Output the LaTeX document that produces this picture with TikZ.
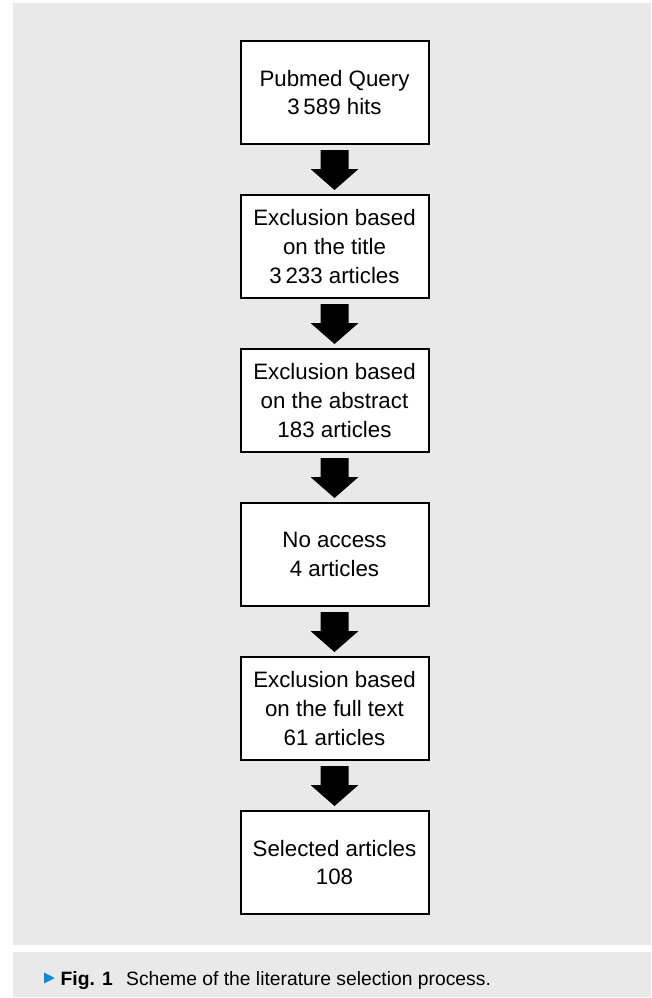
\documentclass[tikz,border=0pt]{standalone}
\usepackage{fontspec}
\setmainfont{Liberation Sans}
\usepackage{tikz}
\usetikzlibrary{calc}
\definecolor{panelgray}{RGB}{233,233,233}
\definecolor{figblue}{RGB}{0,140,215}

\begin{document}
\begin{tikzpicture}[x=1pt,y=1pt,yscale=-1,xscale=1,
    stepbox/.style={draw,line width=2pt,fill=white,minimum width=188pt,minimum height=103pt,
      inner sep=0pt,outer sep=0pt,align=center,font=\fontsize{22.3}{28.7}\selectfont},
    captext/.style={anchor=base west,inner sep=0pt,font=\fontsize{19.3}{23}\selectfont}]
        \useasboundingbox (0,0) rectangle (651,998);

        %Shape: Panels
        \fill [panelgray] (13,3) rectangle (651,945);
        \fill [panelgray] (13,952) rectangle (651,997);

        % Text Node
        \node [stepbox] (query) at (334.5,92.5) {Pubmed Query\\3\,589 hits};
        % Text Node
        \node [stepbox] (title) at (334.5,246.5) {Exclusion based\\on the title\\3\,233 articles};
        % Text Node
        \node [stepbox] (abstract) at (334.5,400.5) {Exclusion based\\on the abstract\\183 articles};
        % Text Node
        \node [stepbox] (access) at (334.5,554.5) {No access\\4 articles};
        % Text Node
        \node [stepbox] (fulltext) at (334.5,708.5) {Exclusion based\\on the full text\\61 articles};
        % Text Node
        \node [stepbox] (selected) at (334.5,862.5) {Selected articles\\108};

        %Shape: Block arrows
        \foreach \a/\b in {query/title,title/abstract,abstract/access,access/fulltext,fulltext/selected}{
            \fill ($(\a.south)+(-14,6)$) -- ($(\a.south)+(14,6)$) -- ($(\a.south)+(14,25)$) -- ($(\a.south)+(24,25)$)
                -- ($(\b.north)+(0,-5)$) -- ($(\a.south)+(-24,25)$) -- ($(\a.south)+(-14,25)$) -- cycle;
        }

        %Shape: Caption marker
        \fill [figblue] (44,972.5) -- (54.7,978) -- (44,983.5) -- cycle;
        % Text Node
        \node [captext] (figlabel) at (60.5,985) {\textbf{Fig. 1}};
        % Text Node
        \node [captext] (figtext) at (126,985) {Scheme of the literature selection process.};
\end{tikzpicture}
\end{document}
